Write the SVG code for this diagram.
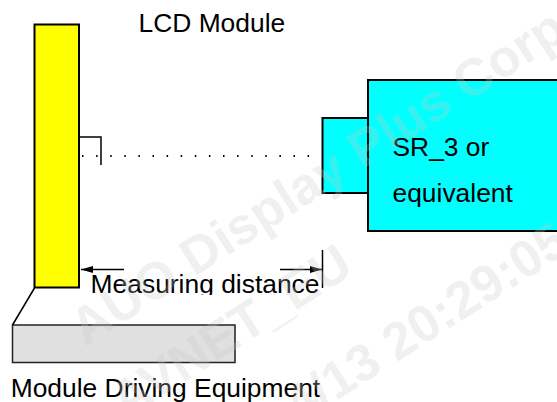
<svg xmlns="http://www.w3.org/2000/svg" width="557" height="402" viewBox="0 0 557 402">
  <style>
    .lbl { font-family: "Liberation Sans", Arial, sans-serif; font-size: 26.4px; fill: #000; }
    .box { stroke: #000; stroke-width: 2; }
    .ln { stroke: #000; stroke-width: 1.5; fill: none; }
    .wm { font-family: "Liberation Sans", Arial, sans-serif; font-size: 52px; font-weight: bold; fill: #c8c8c8; fill-opacity: 0.28; }
  </style>
  <defs>
    <marker id="ah" viewBox="0 0 12 7" refX="12" refY="3.5" markerWidth="12" markerHeight="7" markerUnits="userSpaceOnUse" orient="auto">
      <path d="M0,0 L12,3.5 L0,7 Z" fill="#000"/>
    </marker>
    <clipPath id="clipMeas">
      <rect x="80" y="260" width="250" height="35"/>
    </clipPath>
  </defs>
  <rect width="557" height="402" fill="#fff"/>

  <g id="lcd-module">
    <rect class="box" x="34.5" y="24.5" width="44.5" height="263" fill="#ffff00"/>
    <text class="lbl" x="138.5" y="32">LCD Module</text>
  </g>

  <g id="driving-equipment">
    <rect x="12.5" y="325" width="222.5" height="37.5" fill="#e0e0e0" stroke="#222" stroke-width="1.5"/>
    <text class="lbl" x="10.7" y="397">Module Driving Equipment</text>
  </g>

  <g id="sr3">
    <rect class="box" x="322.5" y="118" width="45.5" height="75" fill="#00ffff"/>
    <rect class="box" x="368" y="80" width="200" height="151" fill="#00ffff"/>
    <text class="lbl" x="392.5" y="155.5">SR_3 or</text>
    <text class="lbl" x="392.5" y="202">equivalent</text>
  </g>

  <g id="connectors">
    <line class="ln" x1="34.5" y1="288" x2="12.5" y2="325"/>
    <path class="ln" d="M79,137 H101 V165"/>
    <line x1="82" y1="156" x2="320" y2="156" stroke="#000" stroke-width="2" stroke-dasharray="1.5 12.6"/>
    <line class="ln" x1="124" y1="269.5" x2="81" y2="269.5" stroke-width="1.2" marker-end="url(#ah)"/>
    <line class="ln" x1="280" y1="269.5" x2="322" y2="269.5" stroke-width="1.2" marker-end="url(#ah)"/>
    <line class="ln" x1="322.5" y1="250" x2="322.5" y2="288" stroke-width="1"/>
  </g>

  <g id="measuring-label">
    <text class="lbl" x="90.6" y="293" clip-path="url(#clipMeas)">Measuring distance</text>
  </g>

  <g id="watermark">
    <text class="wm" transform="translate(85,347) rotate(-32.6)">AUO Display Plus Corp.</text>
    <text class="wm" transform="translate(125,420) rotate(-32.6)">AVNET_EU</text>
    <text class="wm" text-anchor="end" transform="translate(572,250) rotate(-32.6)">4/13 20:29:05</text>
  </g>
</svg>
